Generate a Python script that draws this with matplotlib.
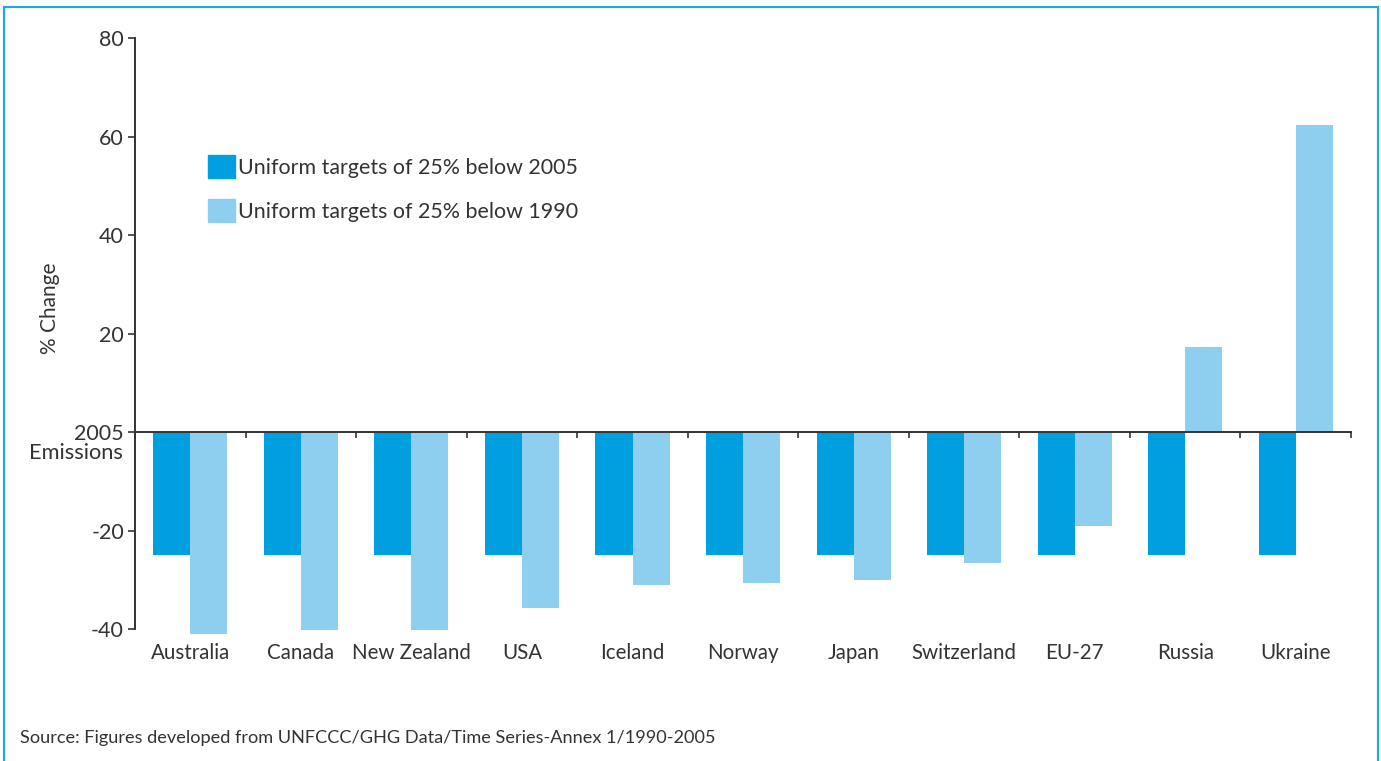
import matplotlib
matplotlib.use("Agg")
import matplotlib.pyplot as plt
import matplotlib.patches as mpatches
import matplotlib.transforms as mtransforms
import numpy as np

plt.rcParams['font.family'] = ['Lato', 'DejaVu Sans']

countries = ['Australia', 'Canada', 'New Zealand', 'USA', 'Iceland', 'Norway',
             'Japan', 'Switzerland', 'EU-27', 'Russia', 'Ukraine']
below_2005 = [-25, -25, -25, -25, -25, -25, -25, -25, -25, -25, -25]
below_1990 = [-41.0, -40.1, -40.1, -35.6, -31.0, -30.6, -30.0, -26.6, -19.1, 17.4, 62.4]
ytick_vals = [-40, -20, 0, 20, 40, 60, 80]
ytick_text = ['-40', '-20', '2005', '20', '40', '60', '80']

dark = '#009fe0'
light = '#8ecff0'
ink = '#333333'

fig = plt.figure(figsize=(13.81, 7.61), dpi=100)
ax = fig.add_axes([0.0978, 0.1731, 0.8805, 0.7766])

x = np.arange(len(countries))
w = 0.335
ax.bar(x - w / 2, below_2005, w, color=dark, zorder=2, clip_on=False)
ax.bar(x + w / 2, below_1990, w, color=light, zorder=2, clip_on=False)

ax.set_xlim(-0.5, len(countries) - 0.5)
ax.set_ylim(-40, 80)

for s in ['top', 'right']:
    ax.spines[s].set_visible(False)
ax.spines['bottom'].set_position(('data', 0))
for s in ['left', 'bottom']:
    ax.spines[s].set_color(ink)
    ax.spines[s].set_linewidth(1.4)
    ax.spines[s].set_zorder(3)

ax.set_yticks(ytick_vals)
ax.set_yticklabels(ytick_text)
ax.tick_params(axis='y', direction='out', length=5, width=1.2, color=ink,
               labelsize=15.5, labelcolor=ink, pad=3)
ax.set_xticks(np.arange(len(countries) + 1) - 0.5)
ax.set_xticklabels([])
ax.tick_params(axis='x', direction='out', length=4, width=1.2, color=ink)

# second line of the zero label
trans = mtransforms.blended_transform_factory(ax.transAxes, ax.transData)
ax.annotate('Emissions', xy=(0, 0), xycoords=trans, xytext=(-9, -8),
            textcoords='offset points', ha='right', va='top',
            fontsize=15.7, color=ink)

for i, name in enumerate(countries):
    ax.annotate(name, xy=(i, -40), xycoords='data', xytext=(0, -10),
                textcoords='offset points', ha='center', va='top',
                fontsize=14.8, color=ink)

fig.text(0.0362, 0.595, '% Change', rotation=90, ha='center', va='center',
         fontsize=15, color=ink)

handles = [mpatches.Patch(color=dark, label='Uniform targets of 25% below 2005'),
           mpatches.Patch(color=light, label='Uniform targets of 25% below 1990')]
fig.legend(handles=handles, loc='upper left', bbox_to_anchor=(208 / 1381, 1 - 155 / 761),
           frameon=False, fontsize=15.4, handlelength=1.25, handleheight=1.25,
           handletextpad=0.15, labelspacing=1.0, borderpad=0, borderaxespad=0,
           labelcolor=ink)

fig.text(20 / 1381, 1 - 738 / 761, 'Source: Figures developed from UNFCCC/GHG Data/Time Series-Annex 1/1990-2005',
         ha='left', va='center', fontsize=13.1, color=ink)

fig.add_artist(mpatches.Rectangle((4 / 1381, -0.05), 1374 / 1381, 1.05 - 7 / 761,
                                  transform=fig.transFigure, fill=False,
                                  edgecolor='#1aa7e3', linewidth=1.5))

fig.savefig('out.png', dpi=100)
